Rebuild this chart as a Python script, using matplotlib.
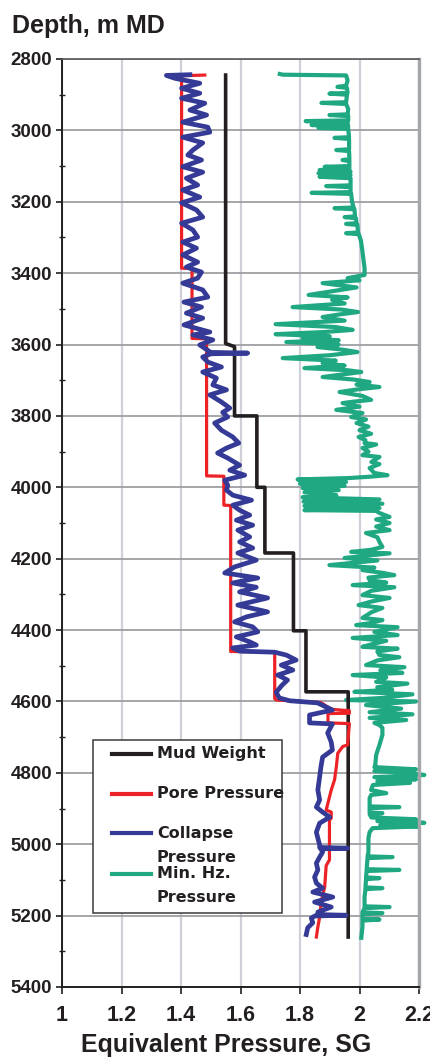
import matplotlib
matplotlib.use("Agg")
import matplotlib.pyplot as plt
from matplotlib.ticker import MultipleLocator
from matplotlib.patches import Rectangle
from matplotlib.lines import Line2D

# Mud weight (SG) vs depth (m MD)
mud_depth = [2845, 3597, 3606, 3800, 3800, 4000, 4000, 4184, 4184, 4402, 4402, 4573, 4573, 5260]
mud_sg = [1.55, 1.55, 1.58, 1.58, 1.655, 1.655, 1.682, 1.682, 1.778, 1.778, 1.82, 1.82, 1.962, 1.962]

# Pore pressure
pore_depth = [2845, 2847, 3386, 3387, 3583, 3584, 3968, 3969, 4050, 4051, 4460, 4461, 4592, 4596,
              4598, 4603, 4622, 4626, 4633, 4634, 4660, 4662, 4722, 4726, 4745, 4784, 4820, 4848,
              4868, 4904, 4910, 4927, 4932, 5044, 5060, 5120, 5140, 5165, 5204, 5232, 5260]
pore_sg = [1.480, 1.402, 1.402, 1.437, 1.437, 1.486, 1.486, 1.544, 1.544, 1.567, 1.567, 1.715, 1.715, 1.72,
           1.765, 1.870, 1.905, 1.966, 1.966, 1.894, 1.894, 1.966, 1.960, 1.944, 1.927, 1.922, 1.916, 1.905,
           1.899, 1.888, 1.905, 1.905, 1.899, 1.899, 1.888, 1.883, 1.877, 1.871, 1.866, 1.860, 1.855]

# Collapse pressure
collapse_depth = [2844, 2846, 2854, 2868, 2882, 2896, 2910, 2924, 2943, 2957, 2977, 2991, 3005, 3019,
                  3035, 3055, 3069, 3083, 3102, 3117, 3134, 3153, 3167, 3187, 3203, 3223, 3243, 3260,
                  3279, 3299, 3313, 3330, 3349, 3369, 3383, 3397, 3414, 3428, 3447, 3467, 3481, 3495,
                  3512, 3526, 3545, 3565, 3573, 3587, 3601, 3622, 3624, 3626, 3635, 3649, 3663, 3677,
                  3694, 3713, 3727, 3741, 3761, 3778, 3790, 3803, 3820, 3840, 3859, 3876, 3890, 3904,
                  3918, 3938, 3952, 3966, 3980, 3994, 4008, 4022, 4036, 4050, 4064, 4078, 4092, 4106,
                  4120, 4139, 4153, 4170, 4184, 4204, 4223, 4240, 4254, 4268, 4280, 4293, 4310, 4330,
                  4349, 4363, 4377, 4391, 4405, 4419, 4433, 4442, 4450, 4459, 4462, 4470, 4484, 4498,
                  4512, 4526, 4540, 4554, 4574, 4590, 4598, 4604, 4624, 4638, 4660, 4663, 4688, 4714,
                  4736, 4756, 4780, 4812, 4848, 4876, 4896, 4910, 4924, 4941, 4966, 4983, 5002, 5009,
                  5011, 5013, 5022, 5036, 5053, 5072, 5092, 5109, 5123, 5134, 5148, 5162, 5176, 5190,
                  5197, 5199, 5201, 5207, 5220, 5234, 5253]
collapse_sg = [1.430, 1.351, 1.379, 1.463, 1.402, 1.463, 1.402, 1.480, 1.430, 1.486, 1.406, 1.490, 1.497, 1.406,
               1.473, 1.440, 1.423, 1.469, 1.406, 1.473, 1.418, 1.456, 1.406, 1.463, 1.402, 1.452, 1.473, 1.402,
               1.440, 1.456, 1.406, 1.452, 1.406, 1.456, 1.418, 1.469, 1.456, 1.406, 1.473, 1.490, 1.410, 1.469,
               1.418, 1.473, 1.410, 1.497, 1.440, 1.507, 1.463, 1.500, 1.624, 1.500, 1.473, 1.490, 1.536, 1.473,
               1.519, 1.507, 1.553, 1.497, 1.536, 1.564, 1.540, 1.557, 1.513, 1.536, 1.574, 1.594, 1.553, 1.523,
               1.557, 1.597, 1.564, 1.614, 1.547, 1.557, 1.553, 1.574, 1.637, 1.574, 1.597, 1.631, 1.586, 1.641,
               1.591, 1.631, 1.597, 1.641, 1.591, 1.653, 1.580, 1.547, 1.658, 1.574, 1.653, 1.597, 1.691, 1.591,
               1.691, 1.620, 1.580, 1.641, 1.658, 1.586, 1.631, 1.653, 1.574, 1.597, 1.715, 1.754, 1.787, 1.737,
               1.776, 1.725, 1.758, 1.740, 1.720, 1.730, 1.765, 1.859, 1.909, 1.832, 1.832, 1.909, 1.893, 1.905,
               1.909, 1.876, 1.871, 1.866, 1.860, 1.866, 1.855, 1.876, 1.900, 1.866, 1.855, 1.860, 1.866, 1.866,
               1.960, 1.870, 1.876, 1.866, 1.855, 1.860, 1.849, 1.855, 1.876, 1.843, 1.910, 1.849, 1.905, 1.860,
               1.860, 1.955, 1.850, 1.838, 1.843, 1.826, 1.821]

# Minimum horizontal stress
hz_depth = [2842, 2844, 2846, 2860, 2875, 2878, 2881, 2895, 2897, 2900, 2921, 2923, 2926, 2940, 2955, 2957,
            2960, 2972, 2974, 2977, 2983, 2985, 2988, 2991, 2993, 2996, 3019, 3021, 3024, 3053, 3055, 3058,
            3081, 3083, 3086, 3100, 3102, 3105, 3109, 3111, 3116, 3120, 3125, 3130, 3134, 3154, 3156, 3159,
            3173, 3175, 3178, 3200, 3216, 3218, 3221, 3241, 3243, 3246, 3260, 3262, 3265, 3286, 3288, 3291,
            3310, 3340, 3386, 3405, 3414, 3420, 3428, 3440, 3461, 3468, 3475, 3485, 3495, 3502, 3509, 3516,
            3523, 3533, 3543, 3551, 3559, 3565, 3571, 3577, 3582, 3588, 3593, 3600, 3607, 3614, 3621, 3630,
            3638, 3645, 3652, 3659, 3666, 3672, 3677, 3684, 3691, 3698, 3705, 3712, 3719, 3726, 3733, 3744,
            3755, 3760, 3764, 3774, 3783, 3792, 3803, 3810, 3820, 3830, 3840, 3850, 3859, 3868, 3876, 3880,
            3890, 3900, 3910, 3915, 3929, 3935, 3946, 3960, 3966, 3970, 3974, 3978, 3985, 3990, 3996, 4002,
            4008, 4014, 4022, 4028, 4034, 4040, 4046, 4052, 4058, 4064, 4066, 4072, 4083, 4090, 4100, 4110,
            4120, 4128, 4140, 4153, 4167, 4175, 4181, 4185, 4198, 4205, 4218, 4225, 4232, 4240, 4246, 4253,
            4260, 4267, 4274, 4280, 4290, 4302, 4310, 4320, 4330, 4338, 4350, 4366, 4372, 4380, 4386, 4392,
            4405, 4414, 4422, 4430, 4440, 4447, 4452, 4460, 4470, 4476, 4485, 4498, 4504, 4512, 4520, 4526,
            4533, 4545, 4550, 4560, 4567, 4573, 4580, 4590, 4596, 4600, 4610, 4620, 4630, 4636, 4646, 4652,
            4660, 4666, 4674, 4694, 4722, 4750, 4778, 4784, 4790, 4795, 4800, 4806, 4812, 4818, 4824, 4828,
            4834, 4848, 4857, 4862, 4871, 4894, 4896, 4899, 4911, 4913, 4916, 4925, 4930, 4935, 4940, 4946,
            4950, 4955, 4966, 4983, 5022, 5034, 5036, 5039, 5070, 5072, 5075, 5093, 5095, 5098, 5121, 5123,
            5126, 5148, 5174, 5176, 5179, 5191, 5193, 5196, 5209, 5211, 5214, 5231, 5262]
hz_sg = [1.732, 1.742, 1.955, 1.960, 1.955, 1.926, 1.958, 1.960, 1.899, 1.958, 1.955, 1.872, 1.955, 1.962, 1.960, 1.899,
         1.962, 1.962, 1.819, 1.960, 1.960, 1.839, 1.962, 1.962, 1.862, 1.962, 1.965, 1.916, 1.965, 1.965, 1.922, 1.965,
         1.966, 1.943, 1.966, 1.966, 1.883, 1.966, 1.966, 1.866, 1.970, 1.862, 1.970, 1.866, 1.970, 1.970, 1.888, 1.970,
         1.970, 1.839, 1.972, 1.975, 1.980, 1.916, 1.983, 1.985, 1.950, 1.988, 1.990, 1.955, 1.993, 1.995, 1.955, 1.998,
         2.005, 2.010, 2.017, 2.017, 1.960, 2.000, 1.876, 1.990, 1.829, 1.960, 1.908, 1.950, 1.775, 1.940, 1.995, 1.930,
         1.876, 1.950, 1.718, 1.920, 1.977, 1.880, 1.718, 1.900, 1.809, 1.930, 1.754, 1.930, 1.859, 1.940, 1.993, 1.900,
         1.742, 1.920, 1.876, 1.950, 1.815, 1.960, 2.006, 1.940, 1.876, 1.980, 2.034, 1.990, 2.067, 1.990, 1.933, 2.010,
         2.039, 1.980, 1.943, 2.000, 1.922, 2.010, 1.972, 2.022, 1.990, 2.030, 2.000, 2.039, 1.997, 2.020, 2.017, 2.056,
         2.010, 2.030, 2.010, 2.067, 2.040, 2.067, 2.034, 2.050, 2.094, 2.040, 1.966, 1.792, 1.955, 1.800, 1.950, 1.809,
         1.930, 1.815, 1.922, 1.809, 2.067, 1.812, 2.077, 1.815, 2.067, 1.815, 2.056, 2.067, 2.101, 2.056, 2.101, 2.056,
         2.101, 2.022, 2.060, 2.067, 2.077, 2.040, 1.972, 2.101, 1.950, 2.060, 1.899, 2.050, 2.010, 2.080, 2.117, 2.030,
         2.034, 2.090, 1.977, 2.117, 2.040, 2.010, 2.101, 2.040, 1.997, 2.077, 2.040, 2.010, 2.077, 2.040, 1.989, 2.128,
         2.050, 2.128, 1.977, 2.090, 2.040, 2.010, 2.128, 2.060, 2.067, 2.134, 2.060, 2.022, 2.151, 2.070, 2.144, 1.977,
         2.090, 2.056, 2.161, 2.060, 2.110, 1.983, 2.178, 2.080, 1.955, 2.190, 2.022, 2.140, 2.034, 2.178, 2.034, 2.157,
         2.050, 2.067, 2.077, 2.077, 2.067, 2.056, 2.053, 2.050, 2.190, 2.050, 2.170, 2.218, 2.050, 2.190, 2.060, 2.170,
         2.045, 2.039, 2.090, 2.039, 2.034, 2.034, 2.134, 2.034, 2.034, 2.077, 2.034, 2.040, 2.190, 2.060, 2.218, 2.070,
         2.200, 2.044, 2.034, 2.030, 2.030, 2.027, 2.111, 2.027, 2.024, 2.134, 2.024, 2.022, 2.067, 2.022, 2.020, 2.077,
         2.020, 2.017, 2.017, 2.101, 2.017, 2.010, 2.077, 2.010, 2.010, 2.067, 2.010, 2.010, 2.006]

x_ticks = [1.0, 1.2, 1.4, 1.6, 1.8, 2.0, 2.2]
x_tick_labels = ["1", "1.2", "1.4", "1.6", "1.8", "2", "2.2"]
y_ticks = [2800, 3000, 3200, 3400, 3600, 3800, 4000, 4200, 4400, 4600, 4800, 5000, 5200, 5400]
legend_labels = ["Mud Weight", "Pore Pressure", "Collapse", "Min. Hz."]

BLACK = "#231f20"
RED = "#ec2227"
BLUE = "#343a96"
GREEN = "#20a883"

plt.rcParams["font.family"] = ["Liberation Sans", "DejaVu Sans"]
plt.rcParams["font.weight"] = "bold"

W, H = 430, 1058
fig = plt.figure(figsize=(W / 100, H / 100), dpi=100)
ax = fig.add_axes([62 / W, 1 - 987 / H, 357 / W, 928 / H])

ax.plot(hz_sg, hz_depth, color=GREEN, lw=3.0, zorder=2, clip_on=False)
ax.plot(mud_sg, mud_depth, color=BLACK, lw=2.6, zorder=3)
ax.plot(pore_sg, pore_depth, color=RED, lw=2.3, zorder=4)
ax.plot(collapse_sg, collapse_depth, color=BLUE, lw=3.4, zorder=5)

ax.set_xlim(1.0, 2.2)
ax.set_ylim(5400, 2800)
ax.set_xticks(x_ticks)
ax.set_xticklabels(x_tick_labels)
ax.set_yticks(y_ticks)
ax.yaxis.set_minor_locator(MultipleLocator(100))

ax.grid(axis="x", color="#d0d1d8", lw=1.6)
ax.grid(axis="y", color="#9d9fa4", lw=1.3)
ax.set_axisbelow(True)

for side in ["left", "bottom"]:
    ax.spines[side].set_color(BLACK)
    ax.spines[side].set_linewidth(1.4)
ax.spines["top"].set_color("#55575a")
ax.spines["top"].set_linewidth(1.2)
ax.spines["right"].set_color("#a4a6a9")
ax.spines["right"].set_linewidth(2.4)

ax.tick_params(axis="y", which="major", direction="out", length=4, width=1.2,
               color=BLACK, labelsize=13.5, labelcolor=BLACK, pad=3)
ax.tick_params(axis="y", which="minor", direction="inout", length=5, width=1.0, color=BLACK)
ax.tick_params(axis="x", direction="out", length=5, width=1.2, color=BLACK,
               labelsize=15.5, labelcolor=BLACK, pad=8)

# legend box drawn by hand to keep the two-line labels laid out as in the source
ax.add_patch(Rectangle((0.087, 0.0797), 0.529, 0.1863, transform=ax.transAxes,
                       facecolor="white", edgecolor="#3a3a3a", lw=1.1, zorder=8))
handle_colors = [BLACK, RED, BLUE, GREEN]
handle_y = [0.2515, 0.2085, 0.1655, 0.1218]
for lab, col, yy in zip(legend_labels, handle_colors, handle_y):
    ax.add_line(Line2D([0.140, 0.249], [yy, yy], transform=ax.transAxes,
                       color=col, lw=3.0, zorder=9))
    ax.text(0.266, yy, lab, transform=ax.transAxes, va="center", ha="left",
            fontsize=11.5, family="DejaVu Sans", weight="bold", color=BLACK, zorder=9)
for yy in [0.1400, 0.0960]:
    ax.text(0.266, yy, "Pressure", transform=ax.transAxes, va="center", ha="left",
            fontsize=11.5, family="DejaVu Sans", weight="bold", color=BLACK, zorder=9)

fig.text(12 / W, 1 - 33.5 / H, "Depth, m MD", ha="left", va="baseline",
         fontsize=18, family="Liberation Sans", weight="bold", color=BLACK)
fig.text(226.5 / W, 1 - 1052 / H, "Equivalent Pressure, SG", ha="center", va="baseline",
         fontsize=18, family="Liberation Sans", weight="bold", color=BLACK)

fig.savefig("out.png", dpi=100)
